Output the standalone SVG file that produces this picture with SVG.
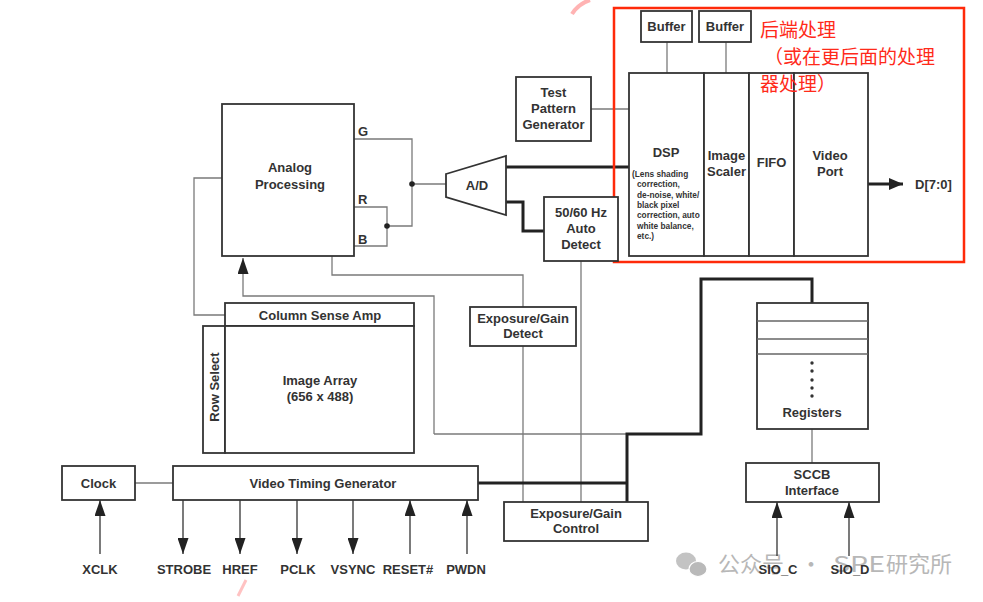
<svg xmlns="http://www.w3.org/2000/svg" width="983" height="602" viewBox="0 0 983 602">
<defs>
<style>
.box{fill:#fff;stroke:#333;stroke-width:1.8}
.t{font-family:"Liberation Sans",Arial,sans-serif;font-weight:bold;font-size:13px;fill:#333;text-anchor:middle}
.s{font-family:"Liberation Sans",Arial,sans-serif;font-weight:bold;font-size:8.3px;fill:#333}
.thin{fill:none;stroke:#7a7a7a;stroke-width:1.3}
.thick{fill:none;stroke:#222;stroke-width:3}
.ar{fill:none;stroke:#333;stroke-width:1.3}
.red{font-family:"Noto Sans CJK SC","Noto Sans",sans-serif;font-size:19px;fill:#ff2a1a}
.wm{font-family:"Noto Sans CJK SC","Noto Sans",sans-serif;font-size:22px;fill:#a6a6a6}
</style>
<marker id="arr" viewBox="0 0 16 11" refX="16" refY="5.5" markerWidth="16" markerHeight="11" orient="auto" markerUnits="userSpaceOnUse">
<path d="M0,0 L16,5.5 L0,11 z" fill="#222"/>
</marker>
<marker id="arr2" viewBox="0 0 14 12" refX="14" refY="6" markerWidth="14" markerHeight="12" orient="auto" markerUnits="userSpaceOnUse">
<path d="M0,0 L14,6 L0,12 z" fill="#222"/>
</marker>
</defs>
<rect width="983" height="602" fill="#fff"/>

<!-- faint pink traces -->
<path d="M572,14 Q578,4 590,0" fill="none" stroke="#ffb3b3" stroke-width="4"/>
<path d="M238,596 L246,580" fill="none" stroke="#ffc2c2" stroke-width="3"/>

<g id="watermark" opacity="0.8">
<ellipse cx="686" cy="561" rx="10" ry="8.5" fill="#b5b5b5"/>
<ellipse cx="698" cy="569" rx="9" ry="7.5" fill="#a8a8a8" stroke="#fff" stroke-width="1.2"/>
<text class="wm" x="718" y="572">公众号</text>
<text class="wm" x="800" y="572">·</text>
<text class="wm" x="833" y="572" textLength="52" lengthAdjust="spacingAndGlyphs">SPE</text>
<text class="wm" x="886" y="572">研究所</text>
</g>

<g id="connectors">
<line class="thin" x1="667" y1="42" x2="667" y2="73"/>
<line class="thin" x1="726" y1="42" x2="726" y2="73"/>
<line class="thin" x1="591" y1="109" x2="629" y2="109"/>
<polyline class="thin" points="354,139 412,139 412,226 387,226"/>
<polyline class="thin" points="354,207 387,207 387,246 354,246"/>
<line class="thin" x1="412" y1="184" x2="446" y2="184"/>
<circle cx="412" cy="184" r="2.8" fill="#222"/>
<circle cx="387" cy="226" r="2.8" fill="#222"/>
<line class="thick" x1="506" y1="167" x2="629" y2="167"/>
<polyline class="thick" points="506,202 523,202 523,231 544,231"/>
<line class="thick" x1="868" y1="184" x2="903" y2="184" marker-end="url(#arr2)"/>
<polyline class="thin" points="222,178 194,178 194,315 225,315"/>
<polyline class="thin" points="434,434 434,296 243,296 243,258" marker-end="url(#arr)"/>
<line class="thin" x1="434" y1="434" x2="627" y2="434"/>
<polyline class="thin" points="332,256 332,275 523,275 523,307"/>
<line class="thin" x1="523" y1="346" x2="523" y2="502"/>
<line class="thin" x1="581" y1="261" x2="581" y2="502"/>
<polyline class="thick" points="627,502 627,434 701,434 701,279 812,279 812,303"/>
<line class="thick" x1="478" y1="483" x2="627" y2="483"/>
<line class="thin" x1="135" y1="483" x2="173" y2="483"/>
<line class="thin" x1="812" y1="429" x2="812" y2="463"/>
<line class="ar" x1="100" y1="554" x2="100" y2="500" marker-end="url(#arr)"/>
<line class="ar" x1="183" y1="500" x2="183" y2="554" marker-end="url(#arr)"/>
<line class="ar" x1="240" y1="500" x2="240" y2="554" marker-end="url(#arr)"/>
<line class="ar" x1="297" y1="500" x2="297" y2="554" marker-end="url(#arr)"/>
<line class="ar" x1="353" y1="500" x2="353" y2="554" marker-end="url(#arr)"/>
<line class="ar" x1="410" y1="554" x2="410" y2="500" marker-end="url(#arr)"/>
<line class="ar" x1="467" y1="554" x2="467" y2="500" marker-end="url(#arr)"/>
<line class="ar" x1="777" y1="556" x2="777" y2="502" marker-end="url(#arr)"/>
<line class="ar" x1="849" y1="556" x2="849" y2="502" marker-end="url(#arr)"/>
</g>

<g id="buffer1"><rect class="box" x="641" y="11" width="51" height="31"/><text class="t" x="666.5" y="31">Buffer</text></g>
<g id="buffer2"><rect class="box" x="699" y="11" width="52" height="31"/><text class="t" x="725" y="31">Buffer</text></g>

<g id="dsp"><rect class="box" x="629" y="73" width="75" height="183"/>
<text class="t" x="666" y="157">DSP</text>
<text class="s" x="632" y="177">(Lens shading</text>
<text class="s" x="637" y="187">correction,</text>
<text class="s" x="637" y="197.5">de-noise, white/</text>
<text class="s" x="637" y="208">black pixel</text>
<text class="s" x="637" y="218">correction, auto</text>
<text class="s" x="637" y="228.5">white balance,</text>
<text class="s" x="637" y="239">etc.)</text>
</g>
<g id="image-scaler"><rect class="box" x="704" y="73" width="45" height="183"/><text class="t" x="726.5" y="160">Image</text><text class="t" x="726.5" y="176">Scaler</text></g>
<g id="fifo"><rect class="box" x="749" y="73" width="45" height="183"/><text class="t" x="771.5" y="167">FIFO</text></g>
<g id="video-port"><rect class="box" x="794" y="73" width="74" height="183"/><text class="t" x="830" y="160">Video</text><text class="t" x="830" y="176">Port</text></g>
<g id="d-out"><text class="t" x="915" y="189" style="text-anchor:start">D[7:0]</text></g>

<g id="backend-note">
<rect x="614" y="8" width="350" height="254" fill="none" stroke="#ff2a0a" stroke-width="2.5"/>
<text class="red" x="760" y="37">后端处理</text>
<text class="red" x="764" y="64">（或在更后面的处理</text>
<text class="red" x="760" y="91">器处理）</text>
</g>

<g id="test-pattern"><rect class="box" x="516" y="77" width="75" height="64"/>
<text class="t" x="553.5" y="97">Test</text><text class="t" x="553.5" y="113">Pattern</text><text class="t" x="553.5" y="129">Generator</text></g>

<g id="ad"><polygon points="446,174 506,156 506,215 446,197" fill="#fff" stroke="#333" stroke-width="1.8"/><text class="t" x="477" y="190">A/D</text></g>

<g id="auto-detect"><rect class="box" x="544" y="197" width="74" height="64"/>
<text class="t" x="581" y="217">50/60 Hz</text><text class="t" x="581" y="233">Auto</text><text class="t" x="581" y="249">Detect</text></g>

<g id="analog"><rect class="box" x="222" y="104" width="132" height="152"/>
<text class="t" x="290" y="172">Analog</text><text class="t" x="290" y="189">Processing</text>
<text class="t" x="358" y="136" style="text-anchor:start">G</text>
<text class="t" x="358" y="204" style="text-anchor:start">R</text>
<text class="t" x="358" y="244" style="text-anchor:start">B</text>
</g>

<g id="column-sense-amp"><rect class="box" x="225" y="303" width="189" height="23"/><text class="t" x="320" y="319.5">Column Sense Amp</text></g>
<g id="row-select"><rect class="box" x="203" y="326" width="22" height="127"/><text class="t" transform="translate(218.5,387) rotate(-90)">Row Select</text></g>
<g id="image-array"><rect class="box" x="225" y="326" width="189" height="127"/><text class="t" x="320" y="385">Image Array</text><text class="t" x="320" y="401">(656 x 488)</text></g>

<g id="exposure-detect"><rect class="box" x="470" y="307" width="106" height="39"/><text class="t" x="523" y="322.5">Exposure/Gain</text><text class="t" x="523" y="338">Detect</text></g>
<g id="exposure-control"><rect class="box" x="504" y="502" width="144" height="39"/><text class="t" x="576" y="517.5">Exposure/Gain</text><text class="t" x="576" y="533">Control</text></g>

<g id="clock"><rect class="box" x="62" y="466" width="73" height="34"/><text class="t" x="98.5" y="487.5">Clock</text></g>
<g id="vtg"><rect class="box" x="173" y="466" width="305" height="34"/><text class="t" x="323" y="487.5">Video Timing Generator</text></g>

<g id="registers"><rect class="box" x="757" y="303" width="111" height="126"/>
<line x1="757" y1="321" x2="868" y2="321" stroke="#666" stroke-width="1.3"/>
<line x1="757" y1="339" x2="868" y2="339" stroke="#666" stroke-width="1.3"/>
<line x1="757" y1="354" x2="868" y2="354" stroke="#666" stroke-width="1.3"/>
<g fill="#333"><circle cx="812" cy="363" r="1.7"/><circle cx="812" cy="371" r="1.7"/><circle cx="812" cy="380" r="1.7"/><circle cx="812" cy="388" r="1.7"/><circle cx="812" cy="396" r="1.7"/></g>
<text class="t" x="812" y="417">Registers</text></g>
<g id="sccb"><rect class="box" x="746" y="463" width="133" height="39"/><text class="t" x="812" y="479">SCCB</text><text class="t" x="812" y="495">Interface</text></g>

<g id="pins">
<text class="t" x="100" y="574">XCLK</text>
<text class="t" x="184" y="574">STROBE</text>
<text class="t" x="240" y="574">HREF</text>
<text class="t" x="298" y="574">PCLK</text>
<text class="t" x="353" y="574">VSYNC</text>
<text class="t" x="408" y="574">RESET#</text>
<text class="t" x="466" y="574">PWDN</text>
<text class="t" x="778" y="574">SIO_C</text>
<text class="t" x="850" y="574">SIO_D</text>
</g>
</svg>
